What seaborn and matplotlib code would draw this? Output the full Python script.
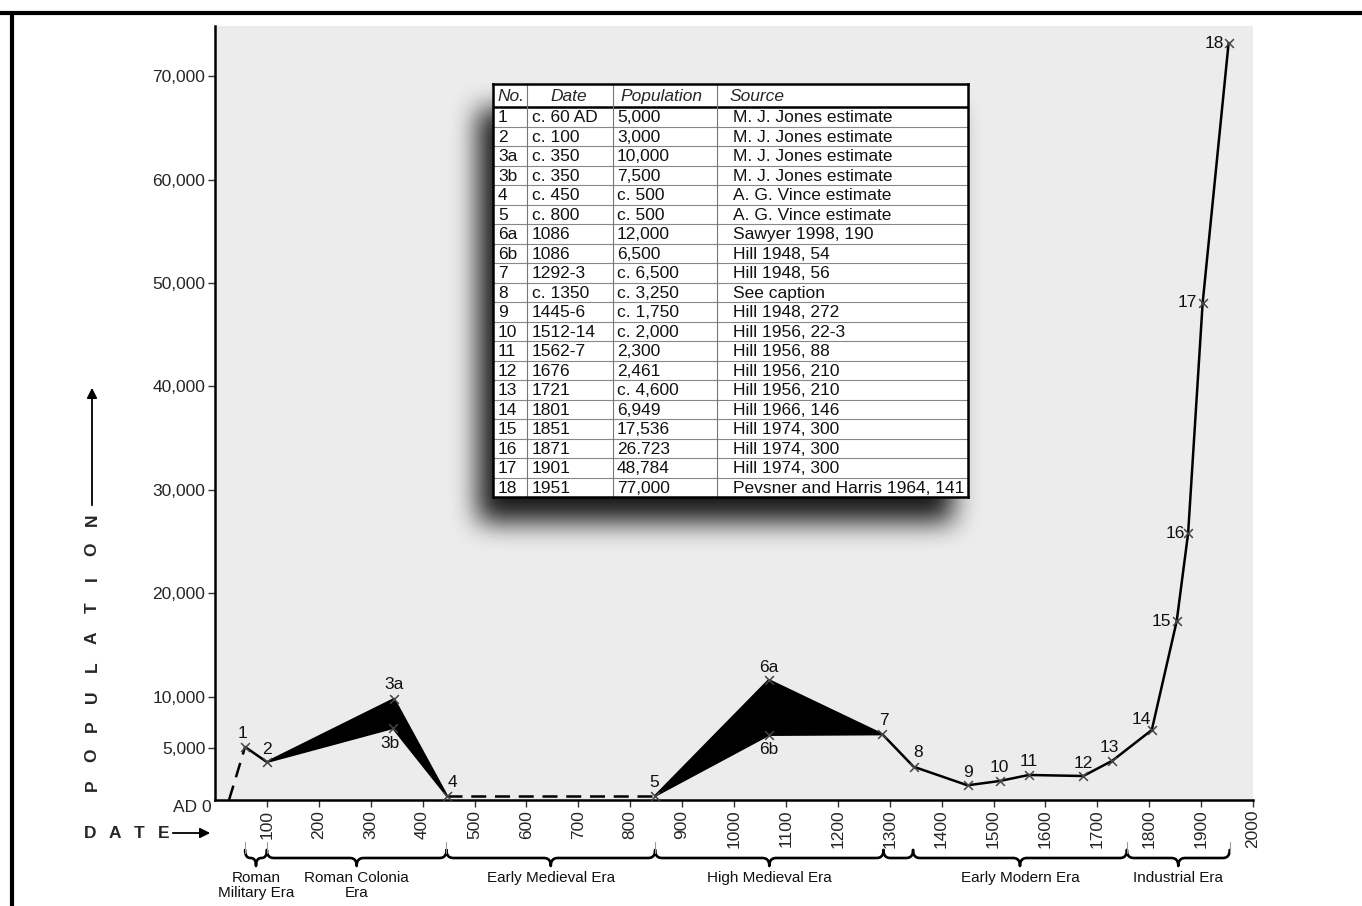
import numpy as np
import matplotlib
matplotlib.use('Agg')
import matplotlib.pyplot as plt
import matplotlib.transforms as mtransforms
from matplotlib.patches import FancyArrowPatch
from matplotlib.lines import Line2D
import seaborn as sns

# points as plotted on the chart (year, population)
point_labels = ['1', '2', '3a', '3b', '4', '5', '6a', '6b', '7', '8', '9', '10',
                '11', '12', '13', '14', '15', '16', '17', '18']
years = [58, 100, 345, 343, 447, 848, 1067, 1067, 1286, 1346, 1450, 1512,
         1568, 1673, 1729, 1805, 1853, 1875, 1903, 1953]
pops = [5130, 3670, 9770, 6960, 400, 400, 11600, 6290, 6350, 3220, 1420, 1840,
        2420, 2320, 3800, 6770, 17300, 25800, 48070, 73200]
lead_in = (27, 0)   # dashed start of the curve on the axis

# eras under the axis
era_names = ['Roman\nMilitary Era', 'Roman Colonia\nEra', 'Early Medieval Era',
             'High Medieval Era', '', 'Early Modern Era', 'Industrial Era']
era_start = [58, 100, 446, 848, 1288, 1345, 1757]
era_end = [100, 446, 848, 1288, 1345, 1757, 1955]

# inset table
tab_no = ['1', '2', '3a', '3b', '4', '5', '6a', '6b', '7', '8', '9', '10', '11',
          '12', '13', '14', '15', '16', '17', '18']
tab_date = ['c. 60 AD', 'c. 100', 'c. 350', 'c. 350', 'c. 450', 'c. 800', '1086',
            '1086', '1292-3', 'c. 1350', '1445-6', '1512-14', '1562-7', '1676',
            '1721', '1801', '1851', '1871', '1901', '1951']
tab_pop = ['5,000', '3,000', '10,000', '7,500', 'c. 500', 'c. 500', '12,000', '6,500',
           'c. 6,500', 'c. 3,250', 'c. 1,750', 'c. 2,000', '2,300', '2,461',
           'c. 4,600', '6,949', '17,536', '26.723', '48,784', '77,000']
tab_src = ['M. J. Jones estimate', 'M. J. Jones estimate', 'M. J. Jones estimate',
           'M. J. Jones estimate', 'A. G. Vince estimate', 'A. G. Vince estimate',
           'Sawyer 1998, 190', 'Hill 1948, 54', 'Hill 1948, 56', 'See caption',
           'Hill 1948, 272', 'Hill 1956, 22-3', 'Hill 1956, 88', 'Hill 1956, 210',
           'Hill 1956, 210', 'Hill 1966, 146', 'Hill 1974, 300', 'Hill 1974, 300',
           'Hill 1974, 300', 'Pevsner and Harris 1964, 141']

# label offsets in pixels (dx, dy up)
label_off = {'1': (-3, 13), '2': (0, 13), '3a': (0, 14), '3b': (-3, -15),
             '4': (5, 13), '5': (-1, 13), '6a': (0, 13), '6b': (0, -15),
             '7': (2, 14), '8': (4, 14), '9': (0, 13), '10': (0, 13),
             '11': (0, 13), '12': (0, 13), '13': (-3, 13), '14': (-10, 10),
             '15': (-15, 0), '16': (-13, 0), '17': (-15, 0), '18': (-14, 0)}

sns.set_theme(style='ticks')
plt.rcParams['font.family'] = ['Liberation Sans', 'DejaVu Sans']

W, H = 1362, 906
fig = plt.figure(figsize=(W / 100, H / 100), dpi=100)
fig.patch.set_facecolor('white')


def fx(x):
    return x / W


def fy(y):
    return 1 - y / H


ax = fig.add_axes([fx(215), fy(800), (1253 - 215) / W, (800 - 26) / H])
ax.set_facecolor('#ececec')
ax.set_xlim(0, 2000)
ax.set_ylim(0, 74850)
for s in ['top', 'right']:
    ax.spines[s].set_visible(False)
for s in ['left', 'bottom']:
    ax.spines[s].set_linewidth(1.8)
    ax.spines[s].set_color('black')

yt = [5000] + list(range(10000, 70001, 10000))
ax.set_yticks(yt)
ax.set_yticklabels([f'{v:,}' for v in yt], fontsize=12.5)
xt = list(range(100, 2001, 100))
ax.set_xticks(xt)
ax.set_xticklabels([str(v) for v in xt], rotation=90, fontsize=12.5)
ax.tick_params(axis='both', length=5, width=1, color='#333', pad=2)
ax.set_xlabel('')
ax.set_ylabel('')

# black bands between the two estimates
poly1 = [1, 2, 4, 3]
poly2 = [5, 6, 8, 7]
for p in (poly1, poly2):
    ax.fill([years[i] for i in p], [pops[i] for i in p], facecolor='black',
            edgecolor='black', lw=1.5, zorder=3)

# solid parts of the curve
sns.lineplot(x=years[0:2], y=pops[0:2], color='black', lw=1.8, sort=False,
             estimator=None, ax=ax, zorder=3)
sns.lineplot(x=years[8:], y=pops[8:], color='black', lw=1.8, sort=False,
             estimator=None, ax=ax, zorder=3)
# dashed parts
ax.plot([lead_in[0], years[0]], [lead_in[1], pops[0]], color='black', lw=1.8,
        ls=(0, (6, 3.5)), zorder=3, clip_on=False)
ax.plot([years[4], years[5]], [pops[4], pops[5]], color='black', lw=1.8,
        ls=(0, (6, 3.5)), zorder=3)

sns.scatterplot(x=years, y=pops, marker='x', s=40, color='#444', linewidth=1.1,
                ax=ax, zorder=4, legend=False)

for lab, xv, yv in zip(point_labels, years, pops):
    dx, dy = label_off[lab]
    ax.annotate(lab, (xv, yv), xytext=(dx * 0.72, dy * 0.72), textcoords='offset points',
                ha='center', va='center', fontsize=12.5, color='#111', zorder=6)

# AD 0 and axis titles
fig.text(fx(212), fy(808), 'AD 0', ha='right', va='center', fontsize=12.5)
for i, ch in enumerate('POPULATION'):
    fig.text(fx(92), fy(785 - i * 29.5), ch, rotation=90, ha='center', va='center',
             fontsize=12.5, fontweight='bold')
fig.add_artist(FancyArrowPatch(
    (fx(92), fy(508)), (fx(92), fy(385)), transform=fig.transFigure,
    arrowstyle='-|>', mutation_scale=15, lw=1.3, color='black'))
for i, ch in enumerate('DATE'):
    fig.text(fx(90 + i * 24.5), fy(833), ch, ha='center', va='center',
             fontsize=12.5, fontweight='bold')
fig.add_artist(FancyArrowPatch(
    (fx(170), fy(833)), (fx(213), fy(833)), transform=fig.transFigure,
    arrowstyle='-|>', mutation_scale=15, lw=1.3, color='black'))

# era braces
bt = mtransforms.blended_transform_factory(ax.transData, fig.transFigure)
px_per_year = (1253 - 215) / 2000


def qbez(p0, c, p2, n=12):
    t = np.linspace(0, 1, n)
    x = (1 - t) ** 2 * p0[0] + 2 * (1 - t) * t * c[0] + t ** 2 * p2[0]
    y = (1 - t) ** 2 * p0[1] + 2 * (1 - t) * t * c[1] + t ** 2 * p2[1]
    return x, y


def brace(x0, x1, tip=True):
    ytop, ybase, ytip = 850, 858, 866
    r = min(7 / px_per_year, (x1 - x0) / 4)
    xm = (x0 + x1) / 2
    segs = [qbez((x0, ytop), (x0, ybase), (x0 + r, ybase))]
    if tip:
        segs.append(qbez((xm - r, ybase), (xm, ybase), (xm, ytip)))
        segs.append(qbez((xm, ytip), (xm, ybase), (xm + r, ybase)))
    segs.append(qbez((x1 - r, ybase), (x1, ybase), (x1, ytop)))
    xs = np.concatenate([s[0] for s in segs])
    ys = np.concatenate([s[1] for s in segs])
    ax.add_line(Line2D(xs, fy(ys), transform=bt, color='black', lw=1.9,
                       clip_on=False, solid_capstyle='round'))


for name, a, b in zip(era_names, era_start, era_end):
    brace(a, b, tip=bool(name))
    if name:
        ax.text((a + b) / 2, fy(871), name, transform=bt, ha='center', va='top',
                fontsize=11, linespacing=1.05, color='#111')
for b in sorted(set(era_start + era_end)):
    if b in (1288, 1345):
        continue
    ax.add_line(Line2D([b, b], [fy(842), fy(853)], transform=bt, color='#999',
                       lw=0.8, clip_on=False))

# soft drop shadow for the table (blurred mask drawn as a figure image)
tx0, ty0, tx1, ty1 = 493, 84, 968, 497
pad = 80
sx, sy = -15, 25
sh_w = tx1 - tx0 + 2 * pad
sh_h = ty1 - ty0 + 2 * pad
mask = np.zeros((sh_h, sh_w))
mask[pad + sy:pad + sy + (ty1 - ty0), pad + sx:pad + sx + (tx1 - tx0)] = 1.0


def box_blur(a, r):
    k = np.ones(2 * r + 1) / (2 * r + 1)
    a = np.apply_along_axis(lambda v: np.convolve(v, k, mode='same'), 0, a)
    a = np.apply_along_axis(lambda v: np.convolve(v, k, mode='same'), 1, a)
    return a


for _ in range(3):
    mask = box_blur(mask, 12)
shadow = np.zeros((sh_h, sh_w, 4))
shadow[..., 3] = mask * 0.9
fig.figimage(shadow, xo=tx0 - pad, yo=H - ty1 - pad, zorder=1, origin='upper')

tab = fig.add_axes([fx(tx0), fy(ty1), (tx1 - tx0) / W, (ty1 - ty0) / H], zorder=2)
tab.set_xlim(0, tx1 - tx0)
tab.set_ylim(ty1 - ty0, 0)
tab.set_facecolor('white')
tab.set_xticks([])
tab.set_yticks([])
for s in tab.spines.values():
    s.set_linewidth(1.8)
    s.set_color('black')

hdr_h = 23
row_h = (ty1 - ty0 - hdr_h) / len(tab_no)
tab.axhline(hdr_h, color='black', lw=1.8)
for i in range(1, len(tab_no)):
    tab.axhline(hdr_h + i * row_h, color='#888', lw=0.8)
for xv in (34, 120, 224):
    tab.axvline(xv, color='#777', lw=0.8)

hdr = [('No.', 4), ('Date', 57), ('Population', 127), ('Source', 237)]
for t, xv in hdr:
    tab.text(xv, hdr_h / 2 + 1, t, ha='left', va='center', fontsize=12.5,
             style='italic')
cols = [(tab_no, 5), (tab_date, 39), (tab_pop, 124), (tab_src, 240)]
for vals, xv in cols:
    for i, v in enumerate(vals):
        tab.text(xv, hdr_h + (i + 0.5) * row_h + 1, v, ha='left', va='center',
                 fontsize=12.5, color='#111')

# frame of the page
fig.add_artist(Line2D([0, 1], [fy(13), fy(13)], transform=fig.transFigure,
                      color='black', lw=3))
fig.add_artist(Line2D([fx(12), fx(12)], [0, fy(13)], transform=fig.transFigure,
                      color='black', lw=3))

fig.savefig('out.png', dpi=100)
